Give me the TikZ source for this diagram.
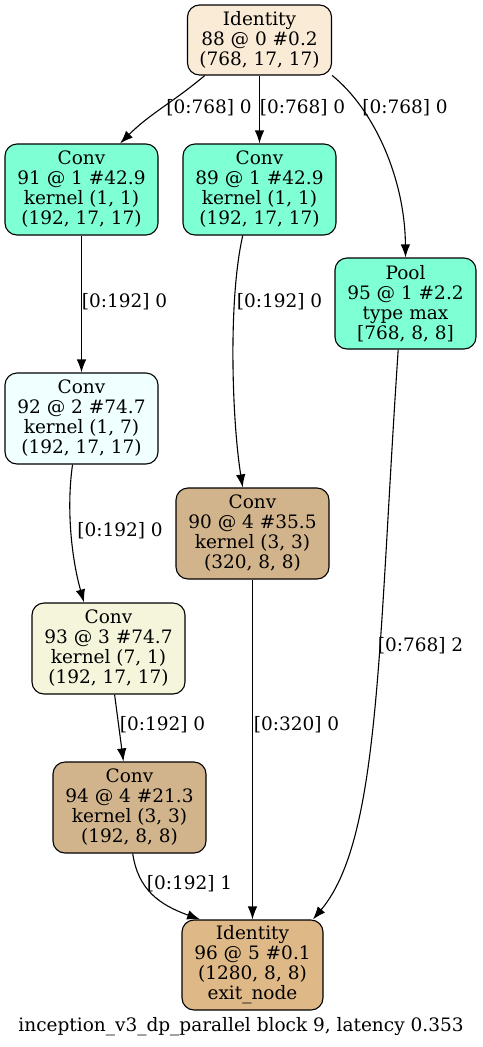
\documentclass[tikz,border=0pt]{standalone}
\usepackage{fontspec}
\setmainfont{DejaVu Serif}
\usetikzlibrary{arrows.meta}
\definecolor{antiquewhite}{HTML}{FAEBD7}
\definecolor{aquamarine}{HTML}{7FFFD4}
\definecolor{azure}{HTML}{F0FFFF}
\definecolor{beige}{HTML}{F5F5DC}
\definecolor{tan}{HTML}{D2B48C}
\definecolor{burlywood}{HTML}{DEB887}
\tikzset{
  op/.style={draw, rounded corners=12pt, align=center, inner sep=0pt,
    minimum width=153, minimum height=91, line width=1.1pt,
    font=\fontsize{18.5}{20}\selectfont},
  edge/.style={-{Latex[length=13pt,width=9.5pt]}, line width=1.1pt},
  lbl/.style={font=\fontsize{18.5}{20}\selectfont, inner sep=0pt}
}
\begin{document}
\begin{tikzpicture}[x=1pt,y=-1pt]
\useasboundingbox (0,0) rectangle (482,1047);

\node[op, fill=antiquewhite, minimum width=144, minimum height=70] (n88) at (259.5,40) {Identity\\88 @ 0 \#0.2\\(768, 17, 17)};
\node[op, fill=aquamarine] (n91) at (81.5,189.5) {Conv\\91 @ 1 \#42.9\\kernel (1, 1)\\(192, 17, 17)};
\node[op, fill=aquamarine] (n89) at (259.5,189.5) {Conv\\89 @ 1 \#42.9\\kernel (1, 1)\\(192, 17, 17)};
\node[op, fill=aquamarine, minimum width=141] (n95) at (405.5,303.5) {Pool\\95 @ 1 \#2.2\\type max\\{[768, 8, 8]}};
\node[op, fill=azure] (n92) at (81.5,418.5) {Conv\\92 @ 2 \#74.7\\kernel (1, 7)\\(192, 17, 17)};
\node[op, fill=tan] (n90) at (252.5,533.5) {Conv\\90 @ 4 \#35.5\\kernel (3, 3)\\(320, 8, 8)};
\node[op, fill=beige] (n93) at (108.5,648.5) {Conv\\93 @ 3 \#74.7\\kernel (7, 1)\\(192, 17, 17)};
\node[op, fill=tan] (n94) at (129.5,807.5) {Conv\\94 @ 4 \#21.3\\kernel (3, 3)\\(192, 8, 8)};
\node[op, fill=burlywood, minimum width=141, minimum height=90] (n96) at (252.5,965) {Identity\\96 @ 5 \#0.1\\(1280, 8, 8)\\exit\_node};

\draw[edge] (n88.-147) to[out=-140, in=45] (n91.50);
\draw[edge] (n88) -- (n89);
\draw[edge] (n88.-26) .. controls (375,110) and (405,180) .. (n95.north);
\draw[edge] (n91) -- (n92);
\draw[edge] (n89.-110) .. controls (228,300) and (232,420) .. (n90.102);
\draw[edge] (n92.-101) .. controls (66,510) and (72,560) .. (n93.118);
\draw[edge] (n93) -- (n94);
\draw[edge] (n90) -- (n96);
\draw[edge] (n94.-86) .. controls (138,890) and (160,905) .. (n96.139);
\draw[edge] (n95.-99) .. controls (378,650) and (380,840) .. (n96.37);

\node[lbl] (l1) at (209,108) {[0:768] 0};
\node[lbl] (l2) at (302.5,108) {[0:768] 0};
\node[lbl] (l3) at (405,108) {[0:768] 0};
\node[lbl] (l4) at (124.5,302) {[0:192] 0};
\node[lbl] (l5) at (279.5,302) {[0:192] 0};
\node[lbl] (l6) at (120,531) {[0:192] 0};
\node[lbl] (l7) at (162.5,725) {[0:192] 0};
\node[lbl] (l8) at (296.5,725) {[0:320] 0};
\node[lbl] (l9) at (189.5,884) {[0:192] 1};
\node[lbl] (l10) at (420.5,646) {[0:768] 2};
\node[lbl] (cap) at (241,1027) {inception\_v3\_dp\_parallel block 9, latency 0.353};
\end{tikzpicture}
\end{document}
